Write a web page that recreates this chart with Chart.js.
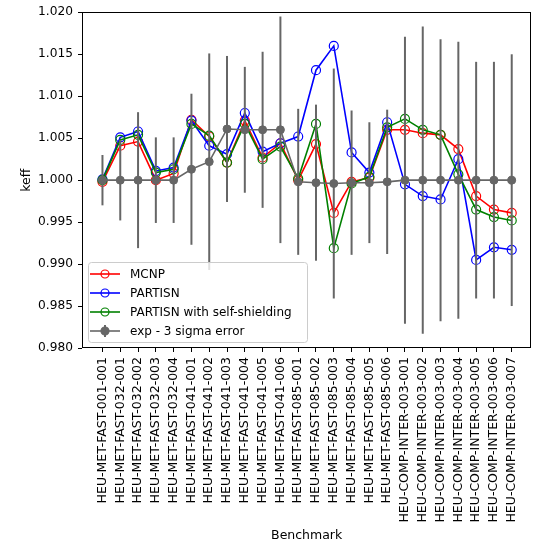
<!DOCTYPE html>
<html>
<head>
<meta charset="utf-8">
<script src="https://cdn.jsdelivr.net/npm/chart.js@4/dist/chart.umd.min.js"></script>
<style>
    html, body { margin: 0; padding: 0; background: #fff; }
    #wrap { width: 537px; height: 541px; }
</style>
</head>
<body>
<div id="wrap"><canvas id="keffChart" width="537" height="541"></canvas></div>
<script>
const benchmarks = [
    "HEU-MET-FAST-001-001", "HEU-MET-FAST-032-001", "HEU-MET-FAST-032-002", "HEU-MET-FAST-032-003",
    "HEU-MET-FAST-032-004", "HEU-MET-FAST-041-001", "HEU-MET-FAST-041-002", "HEU-MET-FAST-041-003",
    "HEU-MET-FAST-041-004", "HEU-MET-FAST-041-005", "HEU-MET-FAST-041-006", "HEU-MET-FAST-085-001",
    "HEU-MET-FAST-085-002", "HEU-MET-FAST-085-003", "HEU-MET-FAST-085-004", "HEU-MET-FAST-085-005",
    "HEU-MET-FAST-085-006", "HEU-COMP-INTER-003-001", "HEU-COMP-INTER-003-002", "HEU-COMP-INTER-003-003",
    "HEU-COMP-INTER-003-004", "HEU-COMP-INTER-003-005", "HEU-COMP-INTER-003-006", "HEU-COMP-INTER-003-007"
];
const mcnp = [0.9998, 1.0041, 1.0046, 1.0000, 1.0008, 1.0072, 1.0052, 1.0021, 1.0071, 1.0027, 1.0044, 1.0000,
    1.0043, 0.9961, 0.9998, 1.0003, 1.0060, 1.0060, 1.0056, 1.0054, 1.0037, 0.9981, 0.9965, 0.9961];
const partisn = [1.0001, 1.0051, 1.0058, 1.0011, 1.0015, 1.0071, 1.0041, 1.0031, 1.0080, 1.0034, 1.0044, 1.0052,
    1.0131, 1.0160, 1.0033, 1.0009, 1.0069, 0.9995, 0.9981, 0.9977, 1.0025, 0.9905, 0.9920, 0.9917];
const partisnSS = [1.0000, 1.0048, 1.0054, 1.0009, 1.0013, 1.0067, 1.0053, 1.0021, 1.0067, 1.0025, 1.0040, 1.0002,
    1.0067, 0.9919, 0.9996, 1.0004, 1.0063, 1.0073, 1.0060, 1.0054, 1.0007, 0.9965, 0.9956, 0.9952];
const expKeff = [1.0000, 1.0000, 1.0000, 1.0000, 1.0000, 1.0013, 1.0022, 1.0061, 1.0060, 1.0060, 1.0060, 0.9998,
    0.9997, 0.9996, 0.9997, 0.9997, 0.9998, 1.0000, 1.0000, 1.0000, 1.0000, 1.0000, 1.0000, 1.0000];
const expErr3s = [0.0030, 0.0048, 0.0081, 0.0051, 0.0051, 0.0090, 0.0129, 0.0087, 0.0075, 0.0093, 0.0135, 0.0087,
    0.0093, 0.0137, 0.0086, 0.0072, 0.0086, 0.0171, 0.0183, 0.0168, 0.0165, 0.0141, 0.0141, 0.0150];
const yTicks = [0.980, 0.985, 0.990, 0.995, 1.000, 1.005, 1.010, 1.015, 1.020];

const FONT = "'DejaVu Sans', sans-serif";
const FONT_SIZE = 12.5;
const GRAY = "#666666";

function toPoints(values) {
    return values.map(function(v, i) { return {x: i, y: v}; });
}

function simSeries(label, values, color, order) {
    return {
        label: label,
        data: toPoints(values),
        borderColor: color,
        borderWidth: 1.6,
        pointRadius: 4.5,
        pointBorderWidth: 1.2,
        pointBorderColor: color,
        pointBackgroundColor: "rgba(0,0,0,0)",
        tension: 0,
        order: order
    };
}

// error bars are drawn just before the exp dataset so its markers sit on top
const errorBars = {
    id: "errorBars",
    beforeDatasetDraw(chart, args) {
        if (chart.data.datasets[args.index].label !== "exp - 3 sigma error") return;
        const ctx = chart.ctx, xs = chart.scales.x, ys = chart.scales.y;
        ctx.save();
        ctx.strokeStyle = GRAY;
        ctx.lineWidth = 2;
        expKeff.forEach(function(v, i) {
            const px = xs.getPixelForValue(i);
            ctx.beginPath();
            ctx.moveTo(px, ys.getPixelForValue(v - expErr3s[i]));
            ctx.lineTo(px, ys.getPixelForValue(v + expErr3s[i]));
            ctx.stroke();
        });
        ctx.restore();
    }
};

const frame = {
    id: "frame",
    afterDraw(chart) {
        const a = chart.chartArea, ctx = chart.ctx;
        ctx.save();
        ctx.strokeStyle = "#000";
        ctx.lineWidth = 1;
        ctx.strokeRect(Math.round(a.left) + 0.5, Math.round(a.top) + 0.5,
            Math.round(a.right - a.left) - 1, Math.round(a.bottom - a.top) - 1);
        ctx.restore();
    }
};

function roundRect(ctx, x, y, w, h, r) {
    ctx.beginPath();
    ctx.moveTo(x + r, y);
    ctx.arcTo(x + w, y, x + w, y + h, r);
    ctx.arcTo(x + w, y + h, x, y + h, r);
    ctx.arcTo(x, y + h, x, y, r);
    ctx.arcTo(x, y, x + w, y, r);
    ctx.closePath();
}

// matplotlib-style legend in the lower left of the plot
const boxLegend = {
    id: "boxLegend",
    afterDraw(chart) {
        const ctx = chart.ctx, a = chart.chartArea;
        const x0 = a.left + 6, y0 = a.bottom - 86, w = 219, h = 80;
        ctx.save();
        roundRect(ctx, x0 + 0.5, y0 + 0.5, w, h, 3);
        ctx.fillStyle = "rgba(255,255,255,0.8)";
        ctx.fill();
        ctx.strokeStyle = "#cccccc";
        ctx.lineWidth = 1;
        ctx.stroke();
        ctx.font = "12px " + FONT;
        ctx.textBaseline = "middle";
        const entries = chart.data.datasets.slice().sort(function(p, q) { return q.order - p.order; });
        entries.forEach(function(ds, i) {
            const cy = y0 + 12 + i * 19, lx = x0 + 2, mx = x0 + 17;
            ctx.strokeStyle = ds.borderColor;
            ctx.lineWidth = ds.borderWidth;
            ctx.beginPath();
            ctx.moveTo(lx, cy);
            ctx.lineTo(lx + 30, cy);
            ctx.stroke();
            if (ds.label === "exp - 3 sigma error") {
                ctx.lineWidth = 2;
                ctx.beginPath();
                ctx.moveTo(mx, cy - 6);
                ctx.lineTo(mx, cy + 6);
                ctx.stroke();
            }
            ctx.beginPath();
            ctx.arc(mx, cy, 4, 0, Math.PI * 2);
            ctx.fillStyle = ds.pointBackgroundColor;
            ctx.fill();
            ctx.lineWidth = 1.2;
            ctx.stroke();
            ctx.fillStyle = "#000";
            ctx.fillText(ds.label, x0 + 42, cy + 1);
        });
        ctx.restore();
    }
};

new Chart(document.getElementById("keffChart"), {
    type: "line",
    data: {
        datasets: [
            simSeries("MCNP", mcnp, "#ff0000", 3),
            simSeries("PARTISN", partisn, "#0000ff", 2),
            simSeries("PARTISN with self-shielding", partisnSS, "#008000", 1),
            {
                label: "exp - 3 sigma error",
                data: toPoints(expKeff),
                borderColor: GRAY,
                borderWidth: 1.6,
                pointRadius: 4,
                pointBorderWidth: 1,
                pointBorderColor: GRAY,
                pointBackgroundColor: GRAY,
                tension: 0,
                order: 0
            }
        ]
    },
    plugins: [errorBars, frame, boxLegend],
    options: {
        responsive: false,
        animation: false,
        layout: { padding: { top: 12, right: 3, left: 0, bottom: 0 } },
        plugins: { legend: { display: false }, tooltip: { enabled: false } },
        scales: {
            x: {
                type: "linear",
                min: -1.15,
                max: 24.1,
                afterFit: function(scale) { scale.height = 193; },
                afterBuildTicks: function(scale) {
                    scale.ticks = benchmarks.map(function(_, i) { return {value: i}; });
                },
                grid: { display: true, drawOnChartArea: false, tickLength: 4, color: "#000", tickWidth: 1 },
                border: { display: false },
                ticks: {
                    autoSkip: false,
                    minRotation: 90,
                    maxRotation: 90,
                    padding: 5,
                    color: "#000",
                    font: { family: FONT, size: FONT_SIZE },
                    callback: function(v) { return benchmarks[v]; }
                },
                title: {
                    display: true,
                    text: "Benchmark",
                    color: "#000",
                    font: { family: FONT, size: FONT_SIZE, lineHeight: 1 },
                    padding: { top: 0, bottom: -1 }
                }
            },
            y: {
                min: 0.98,
                max: 1.02,
                afterFit: function(scale) { scale.width = 82; },
                afterBuildTicks: function(scale) {
                    scale.ticks = yTicks.map(function(v) { return {value: v}; });
                },
                grid: { display: true, drawOnChartArea: false, tickLength: 4, color: "#000", tickWidth: 1 },
                border: { display: false },
                ticks: {
                    padding: 5,
                    color: "#000",
                    font: { family: FONT, size: 12.2 },
                    callback: function(v) { return v.toFixed(3); }
                },
                title: {
                    display: true,
                    text: "keff",
                    color: "#000",
                    font: { family: FONT, size: FONT_SIZE, lineHeight: 1 },
                    padding: { top: 20, bottom: 0 }
                }
            }
        }
    }
});
</script>
</body>
</html>
